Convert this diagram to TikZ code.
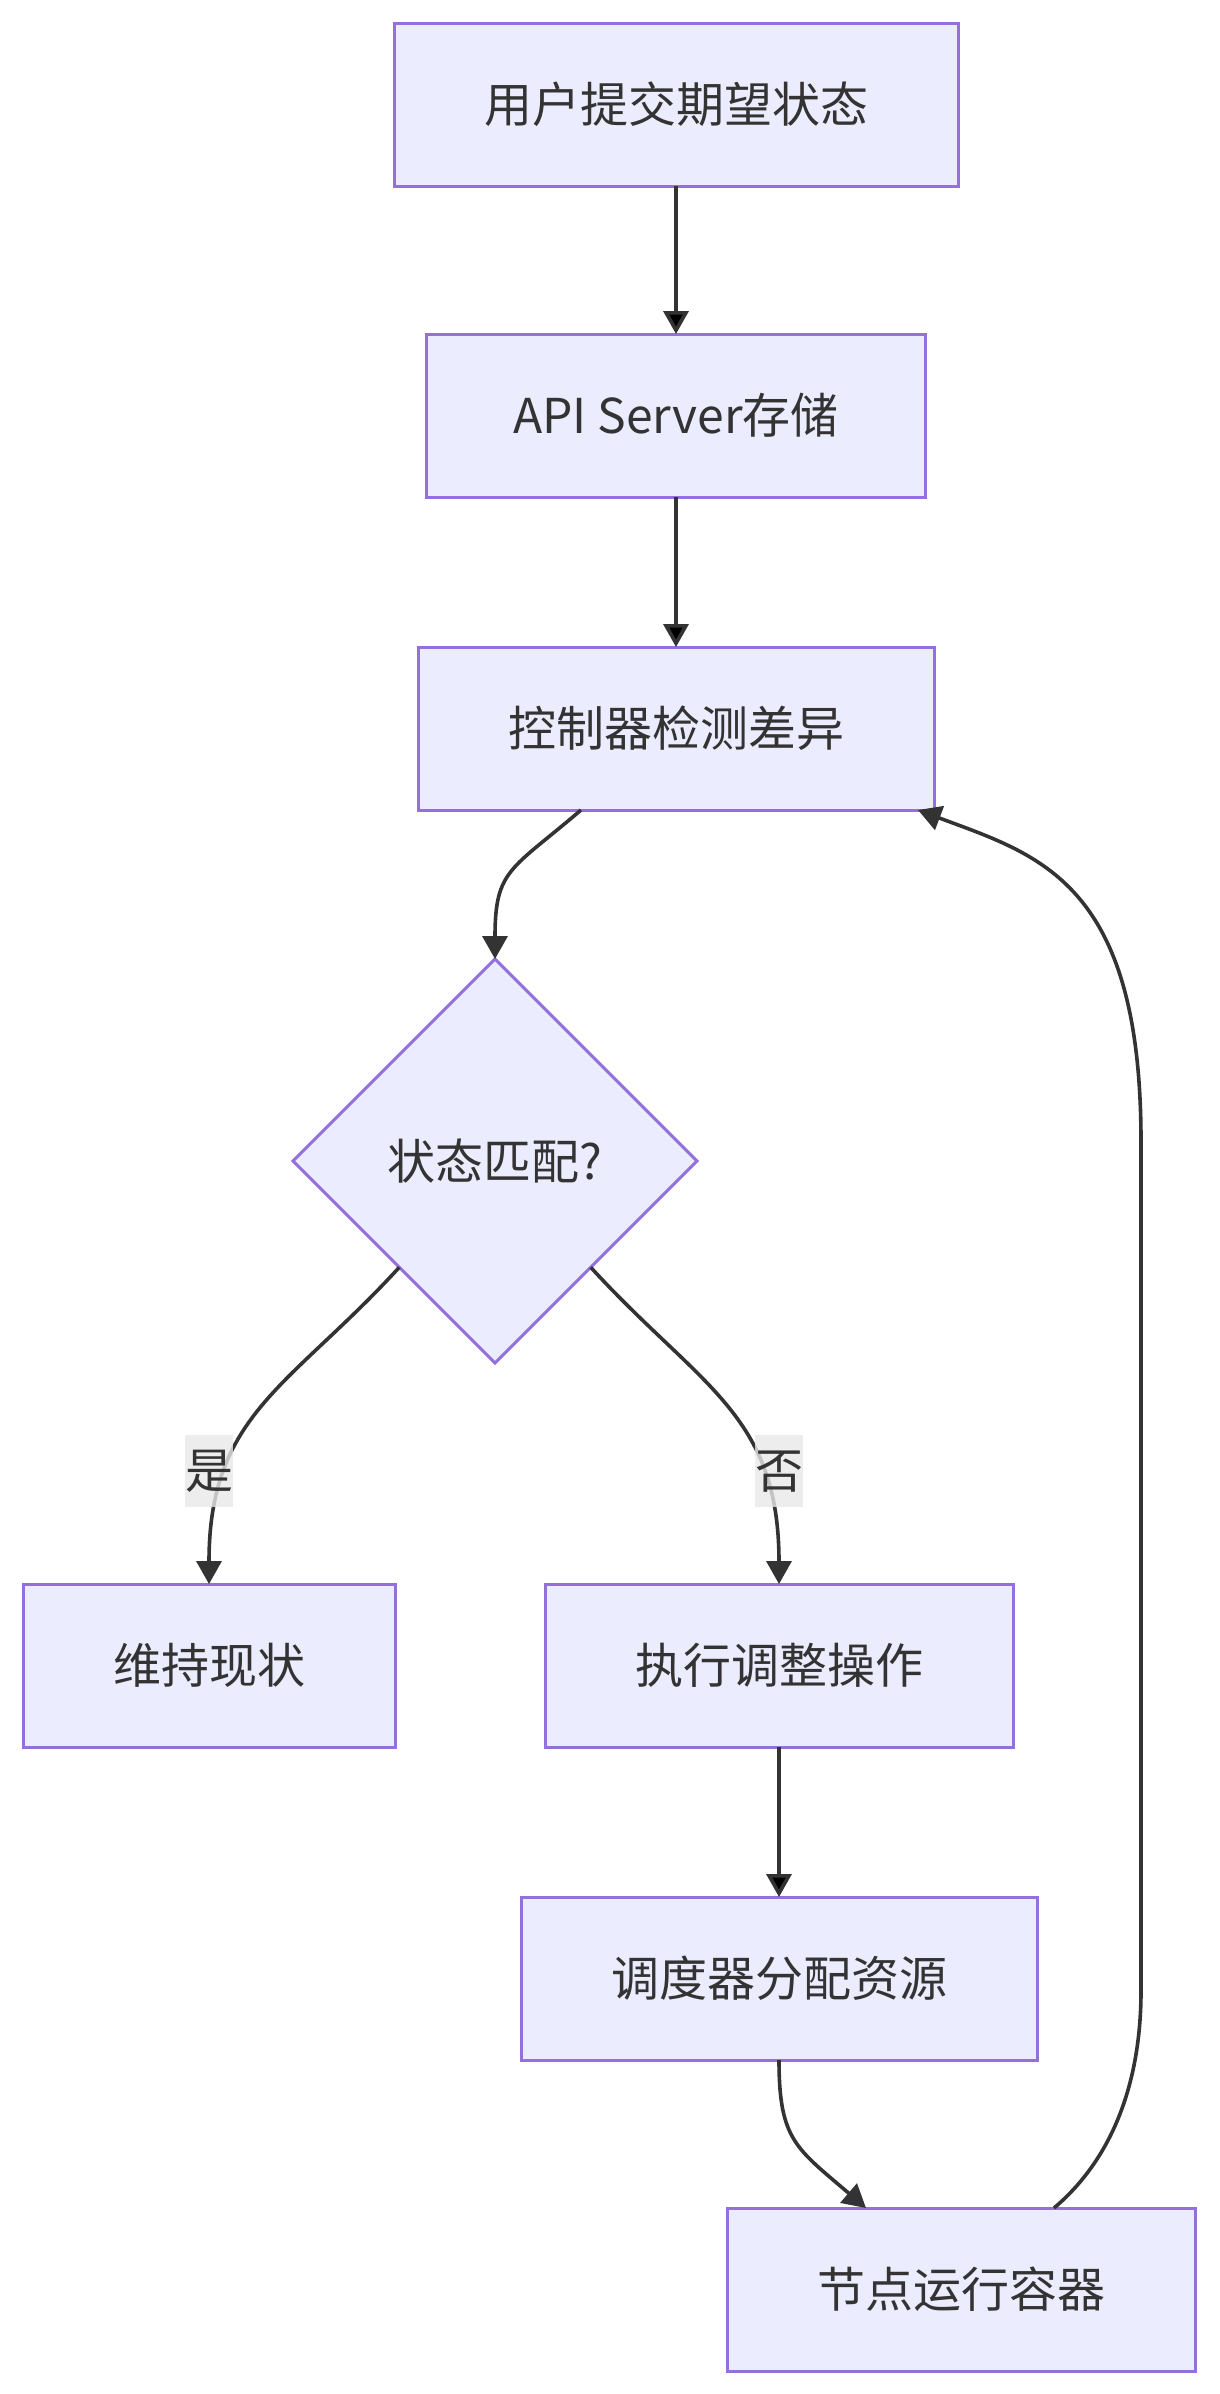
\documentclass[tikz,border=0pt]{standalone}
\usepackage{fontspec}
\setmainfont{Noto Sans CJK SC}
\usetikzlibrary{positioning, shapes.geometric, arrows.meta}

\definecolor{boxfill}{HTML}{ECECFF}
\definecolor{boxline}{HTML}{9370DB}
\definecolor{ink}{HTML}{333333}
\definecolor{lblfill}{HTML}{E8E8E8}

\tikzset{
  proc/.style={rectangle, draw=boxline, fill=boxfill, line width=3pt,
    inner xsep=90pt, inner ysep=0pt, minimum height=163pt, outer sep=0pt, text=ink},
  check/.style={diamond, aspect=1, draw=boxline, fill=boxfill, line width=3pt,
    minimum width=404pt, minimum height=404pt, inner sep=0pt, outer sep=0pt, text=ink},
  lbl/.style={fill=lblfill, fill opacity=0.8, text opacity=1, text=ink,
    inner sep=0pt, minimum width=48pt, minimum height=72pt},
}

\begin{document}
\begin{tikzpicture}[x=1pt, y=1pt, font=\fontsize{48}{58}\selectfont,
    >={Triangle[length=23pt,width=25pt]}, line width=3.6pt]
        \useasboundingbox (0,0) rectangle (1219,-2394);
        \node[proc] (submit) at (676,-104.5) {用户提交期望状态};
        \node[proc, inner xsep=87pt] (store) [below=148pt of submit] {API Server存储};
        \node[proc] (detect) [below=150pt of store] {控制器检测差异};
        \node[check] (match) [below=149pt of detect, xshift=-181pt] {状态匹配?};
        \node[proc] (keep) [below=221pt of match, xshift=-286pt] {维持现状};
        \node[proc] (adjust) [below=221pt of match, xshift=284pt] {执行调整操作};
        \node[proc] (schedule) [below=150pt of adjust] {调度器分配资源};
        \node[proc] (run) [below=148pt of schedule, xshift=182pt] {节点运行容器};
        \path[->, draw=ink]
                (submit) edge (store)
                (store) edge (detect)
                (adjust) edge (schedule);
        \draw[->, ink] ([xshift=-95pt]detect.south) .. controls +(-70,-60) and +(0,90) .. (match.north);
        \draw[->, ink] (match.228) .. controls +(-110,-120) and +(0,170) .. (keep.north);
        \draw[->, ink] (match.312) .. controls +(110,-120) and +(0,170) .. (adjust.north);
        \draw[->, ink] (schedule.south) .. controls +(0,-80) and +(-70,60) .. ([xshift=-95pt]run.north);
        \draw[->, ink] ([xshift=93pt]run.north) .. controls +(65,55) and +(0,-80) .. ++(87,217)
                -- ++(0,850)
                .. controls +(0,260) and +(120,-45) .. ([xshift=-16pt]detect.south east);
        \node[lbl] (yes) [above=75pt of keep] {是};
        \node[lbl] (no) [above=75pt of adjust] {否};
    \end{tikzpicture}
\end{document}
